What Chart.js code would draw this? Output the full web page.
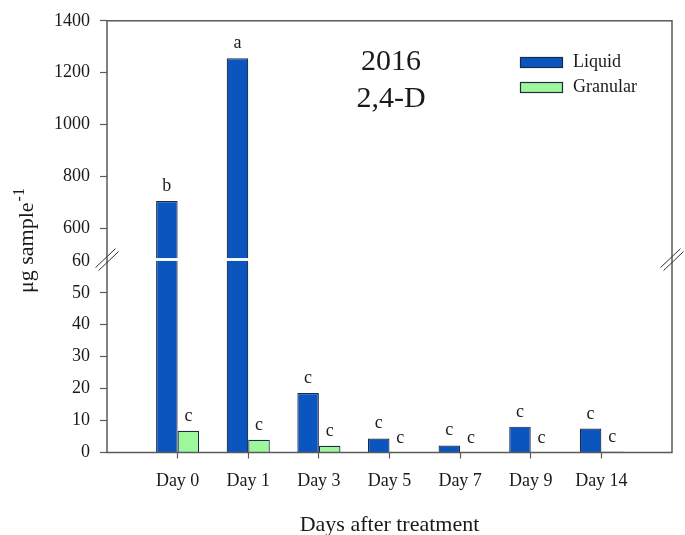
<!DOCTYPE html>
<html><head><meta charset="utf-8">
<script src="https://cdn.jsdelivr.net/npm/chart.js@4.4.1/dist/chart.umd.min.js"></script>
<style>html,body{margin:0;padding:0;background:#fff;}canvas{display:block;}</style>
</head><body>
<canvas id="c" width="685" height="535"></canvas>
<script>
// ---- data ----
const categories = ['Day 0', 'Day 1', 'Day 3', 'Day 5', 'Day 7', 'Day 9', 'Day 14'];
const seriesNames = ['Liquid', 'Granular'];
const liquid = [704, 1255, 18.6, 4.4, 2.2, 8.1, 7.5];
const granular = [6.8, 4.0, 2.1, 0, 0, 0, 0.3];
const liquidLetters = ['b', 'a', 'c', 'c', 'c', 'c', 'c'];
const granularLetters = ['c', 'c', 'c', 'c', 'c', 'c', 'c'];
const upperTicks = [600, 800, 1000, 1200, 1400];
const lowerTicks = [0, 10, 20, 30, 40, 50, 60];
const upperRange = [483, 1400];
const lowerRange = [0, 60];
const titleLines = ['2016', '2,4-D'];
const xTitle = 'Days after treatment';
const yTitleMain = '\u03BCg sample';
const yTitleSup = '-1';

// ---- styles ----
const FONT = "'Liberation Serif', 'Times New Roman', serif";
const FILLS = ['#0b55bf', '#9ff79b'];
const EDGE = '#1c2a48';
const AXIS = '#5a5a5a';
const TXT = '#1a1a1a';

const labels = ['', ...categories, ''];
const pad = arr => [null, ...arr, null];

function ds(i, data, axis) {
  return {
    label: seriesNames[i], data: pad(data), backgroundColor: FILLS[i],
    borderColor: EDGE, borderWidth: 1.2, yAxisID: axis, stack: 's' + i
  };
}

const clipPlugin = {
  id: 'scaleClip',
  beforeDatasetDraw(chart, args) {
    const ys = chart.scales[args.meta.yAxisID];
    const a = chart.chartArea;
    chart.ctx.save();
    chart.ctx.beginPath();
    chart.ctx.rect(a.left, ys.top, a.right - a.left, ys.bottom - ys.top);
    chart.ctx.clip();
  },
  afterDatasetDraw(chart) { chart.ctx.restore(); }
};

const decoPlugin = {
  id: 'deco',
  afterDatasetsDraw(chart) {
    const ctx = chart.ctx, a = chart.chartArea;
    const gap = chart.scales.yGap;
    const gy = (gap.top + gap.bottom) / 2;
    ctx.save();
    // frame
    ctx.strokeStyle = AXIS; ctx.lineWidth = 1.5;
    ctx.strokeRect(a.left, a.top, a.right - a.left, a.bottom - a.top);
    // break marks
    ctx.lineWidth = 1; ctx.strokeStyle = '#333';
    [a.left, a.right].forEach(x => {
      [[-1.5, -1.5], [1.5, 1.5]].forEach(([ox, oy]) => {
        ctx.beginPath();
        ctx.moveTo(x + ox - 10, gy + oy + 9.5);
        ctx.lineTo(x + ox + 10, gy + oy - 9.5);
        ctx.stroke();
      });
    });
    // significance letters
    const metas = {};
    chart.data.datasets.forEach((d, i) => { metas[d.stack + d.yAxisID] = chart.getDatasetMeta(i); });
    ctx.fillStyle = TXT; ctx.font = '18px ' + FONT; ctx.textAlign = 'center'; ctx.textBaseline = 'alphabetic';
    [[liquid, liquidLetters], [granular, granularLetters]].forEach(([vals, lets], s) => {
      vals.forEach((v, i) => {
        const axis = v > chart.scales.yLow.max ? 'yHigh' : 'yLow';
        const el = metas['s' + s + axis].data[i + 1];
        ctx.fillText(lets[i], el.x, el.y - 10);
      });
    });
    // legend
    ctx.textAlign = 'left'; ctx.textBaseline = 'middle'; ctx.font = '18px ' + FONT;
    seriesNames.forEach((n, i) => {
      const y = 57 + i * 25;
      ctx.fillStyle = FILLS[i]; ctx.fillRect(520, y, 43, 11);
      ctx.strokeStyle = EDGE; ctx.lineWidth = 1.2; ctx.strokeRect(520.5, y + 0.5, 42, 10);
      ctx.fillStyle = TXT; ctx.fillText(n, 573, y + 5.5);
    });
    // annotation
    ctx.textAlign = 'center'; ctx.textBaseline = 'alphabetic'; ctx.font = '30px ' + FONT;
    titleLines.forEach((t, i) => ctx.fillText(t, 391, 70 + i * 36.5));
    // x title
    ctx.font = '22px ' + FONT;
    ctx.fillText(xTitle, (a.left + a.right) / 2, 531);
    // y title
    ctx.save();
    ctx.translate(33, 293); ctx.rotate(-Math.PI / 2);
    ctx.textAlign = 'left'; ctx.font = '22px ' + FONT;
    ctx.fillText(yTitleMain, 0, 0);
    const w = ctx.measureText(yTitleMain).width;
    ctx.font = '16px ' + FONT;
    ctx.fillText(yTitleSup, w + 1, -9);
    ctx.restore();
    ctx.restore();
  }
};

function yScale(weight, range, ticks) {
  return {
    type: 'linear', position: 'left', stack: 'v', stackWeight: weight, stacked: false,
    min: range[0], max: range[1], offset: false,
    afterBuildTicks: s => { s.ticks = ticks.map(v => ({ value: v })); },
    afterFit: s => { s.width = 107; },
    grid: {
      display: true, drawOnChartArea: false, drawTicks: true, tickLength: 7, tickWidth: 1.2,
      tickColor: c => (c.tick && c.tick.value === 60) ? 'rgba(0,0,0,0)' : AXIS
    },
    border: { display: false },
    ticks: {
      font: { family: FONT, size: 18 }, color: TXT, padding: 10, autoSkip: false,
      callback: v => String(v)
    }
  };
}

new Chart(document.getElementById('c'), {
  type: 'bar',
  data: {
    labels,
    datasets: [
      ds(0, liquid, 'yHigh'), ds(1, granular, 'yHigh'),
      ds(0, liquid, 'yLow'), ds(1, granular, 'yLow')
    ]
  },
  options: {
    responsive: false, animation: false, devicePixelRatio: 1,
    categoryPercentage: 0.61, barPercentage: 1,
    layout: { padding: { top: 20, right: 13, left: 0, bottom: 0 } },
    plugins: { legend: { display: false }, tooltip: { enabled: false } },
    scales: {
      x: {
        type: 'category', offset: false,
        afterFit: s => { s.height = 82.5; },
        grid: {
          display: true, drawOnChartArea: false, offset: false, tickLength: 6, tickWidth: 1.2,
          tickColor: c => (c.tick && c.tick.label === '') ? 'rgba(0,0,0,0)' : AXIS
        },
        border: { display: false },
        ticks: { font: { family: FONT, size: 18 }, color: TXT, padding: 12, maxRotation: 0, autoSkip: false }
      },
      yLow: yScale(192, lowerRange, lowerTicks),
      yGap: {
        type: 'linear', position: 'left', stack: 'v', stackWeight: 2.5, min: 0, max: 1,
        afterFit: s => { s.width = 107; },
        grid: { display: false }, border: { display: false }, ticks: { display: false }
      },
      yHigh: yScale(238, upperRange, upperTicks)
    }
  },
  plugins: [clipPlugin, decoPlugin]
});
</script>
</body></html>
